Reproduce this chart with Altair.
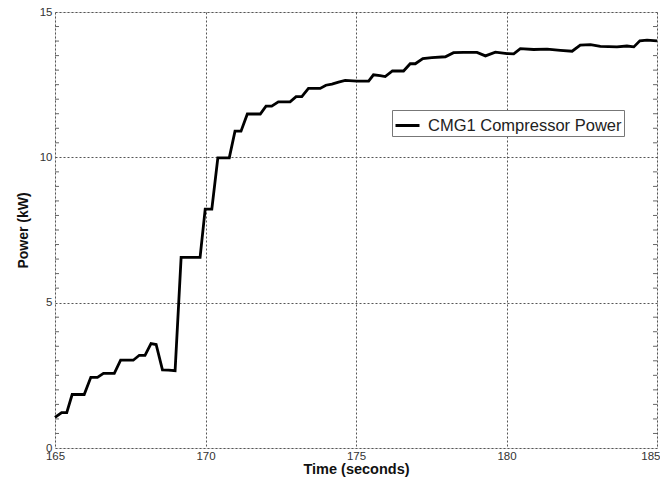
import altair as alt
import pandas as pd

time_s = [165.00, 165.22, 165.39, 165.57, 165.97, 166.19, 166.41, 166.61, 166.97,
          167.18, 167.60, 167.80, 167.99, 168.19, 168.36, 168.57, 168.77, 168.99,
          169.19, 169.82, 169.99, 170.21, 170.41, 170.79, 170.98, 171.18, 171.39,
          171.82, 172.01, 172.20, 172.42, 172.81, 173.01, 173.20, 173.42, 173.81,
          174.00, 174.20, 174.42, 174.64, 175.03, 175.42, 175.58, 175.80, 175.97,
          176.21, 176.58, 176.80, 176.97, 177.22, 177.52, 177.97, 178.24, 178.57,
          179.02, 179.30, 179.63, 180.02, 180.24, 180.46, 180.90, 181.35, 181.79,
          182.18, 182.45, 182.79, 183.12, 183.67, 184.00, 184.23, 184.43, 184.67,
          185.00]
power_kw = [1.05, 1.22, 1.22, 1.84, 1.84, 2.43, 2.43, 2.57, 2.57,
            3.02, 3.02, 3.19, 3.19, 3.59, 3.56, 2.69, 2.68, 2.66,
            6.56, 6.56, 8.22, 8.22, 9.98, 9.98, 10.90, 10.90, 11.49,
            11.49, 11.76, 11.76, 11.91, 11.91, 12.09, 12.09, 12.37, 12.37,
            12.48, 12.52, 12.59, 12.65, 12.62, 12.62, 12.84, 12.81, 12.78,
            12.97, 12.97, 13.22, 13.22, 13.40, 13.43, 13.46, 13.60, 13.61,
            13.61, 13.49, 13.62, 13.57, 13.56, 13.74, 13.71, 13.72, 13.68,
            13.65, 13.86, 13.88, 13.82, 13.80, 13.83, 13.80, 14.01, 14.03,
            14.01]
series_name = ["CMG1 Compressor Power"]
x_ticks = [165, 170, 175, 180, 185]
y_ticks = [0, 5, 10, 15]
y_minor = [0.5, 1, 1.5, 2, 2.5, 3, 3.5, 4, 4.5, 5.5, 6, 6.5, 7, 7.5, 8, 8.5, 9, 9.5,
           10.5, 11, 11.5, 12, 12.5, 13, 13.5, 14, 14.5]

df = pd.DataFrame({"t": time_s, "p": power_kw, "s": series_name * len(time_s)})
ticks_df = pd.DataFrame({"v": y_minor})

W, H = 602, 436
FONT = "Liberation Sans"

xscale = alt.Scale(domain=[165, 185], nice=False)
yscale = alt.Scale(domain=[0, 15], nice=False)

line = alt.Chart(df).mark_line(strokeWidth=2.8, strokeJoin="miter").encode(
    x=alt.X("t:Q", scale=xscale,
            axis=alt.Axis(title="Time (seconds)", values=x_ticks, grid=True,
                          gridColor="#555555", gridDash=[2, 2], gridWidth=1,
                          ticks=False, domain=False, labelFontSize=11.5,
                          labelColor="#333333", labelFont=FONT, labelPadding=2,
                          labelFlush=False,
                          labelAlign=alt.condition("datum.value == 185",
                                                   alt.value("right"), alt.value("center")),
                          labelOffset=alt.condition("datum.value == 185",
                                                    alt.value(3), alt.value(0)),
                          titleFont=FONT, titleFontSize=14.5, titleFontWeight="bold",
                          titleColor="#111111", titlePadding=1)),
    y=alt.Y("p:Q", scale=yscale,
            axis=alt.Axis(title="Power (kW)", values=y_ticks, grid=True,
                          gridColor="#555555", gridDash=[2, 2], gridWidth=1,
                          ticks=False, domain=False, labelFontSize=11.5,
                          labelColor="#333333", labelFont=FONT, labelPadding=3,
                          labelFlush=False,
                          titleFont=FONT, titleFontSize=14, titleFontWeight="bold",
                          titleColor="#111111", titlePadding=9)),
    color=alt.Color("s:N", scale=alt.Scale(domain=series_name, range=["black"]),
                    legend=alt.Legend(title=None, orient="none", legendX=337, legendY=98,
                                      symbolType="stroke", symbolStrokeWidth=3,
                                      symbolSize=576, labelFontSize=16.5, labelFont=FONT,
                                      labelColor="#222222", strokeColor="#777777",
                                      fillColor="white", padding=2, labelOffset=7,
                                      labelLimit=400, rowPadding=0)),
)

left_ticks = alt.Chart(ticks_df).mark_rule(color="#666666", strokeWidth=1).encode(
    y=alt.Y("v:Q", scale=yscale), x=alt.value(0), x2=alt.value(4))
right_ticks = alt.Chart(ticks_df).mark_rule(color="#666666", strokeWidth=1).encode(
    y=alt.Y("v:Q", scale=yscale), x=alt.value(W - 4), x2=alt.value(W))

chart = alt.layer(left_ticks, right_ticks, line).properties(
    width=W, height=H,
    autosize=alt.AutoSizeParams(type="none"),
    padding={"left": 47, "top": 4, "right": 3, "bottom": 29},
).configure_view(stroke="#888888", strokeWidth=1.2).configure(background="white")

chart.save("out.html", embed_options={"renderer": "svg", "actions": False})
